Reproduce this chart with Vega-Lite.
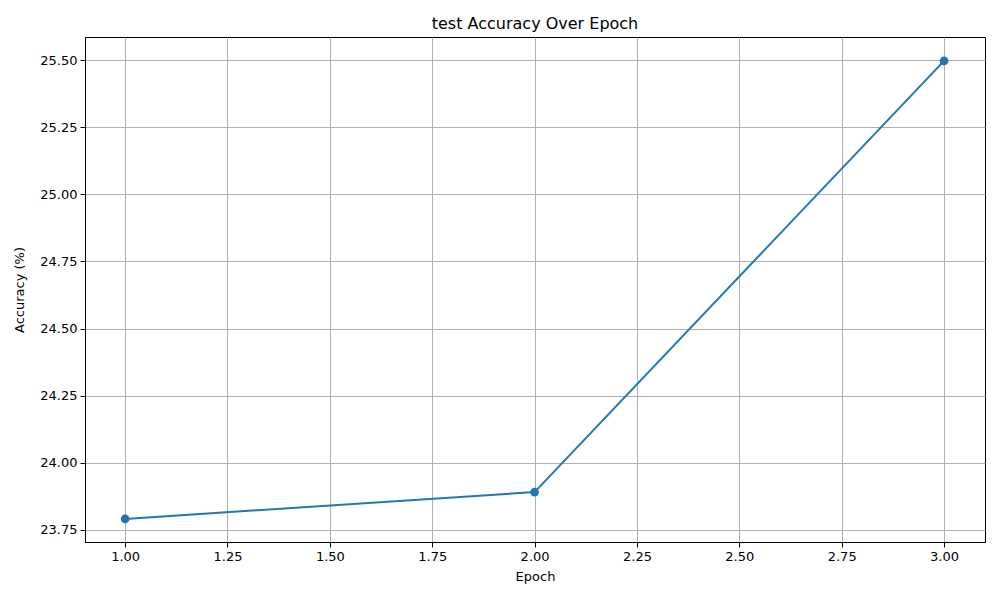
{
  "$schema": "https://vega.github.io/schema/vega-lite/v6.json",
  "width": 900,
  "height": 505,
  "autosize": {"type": "none"},
  "padding": {"left": 85, "top": 37, "right": 15, "bottom": 58},
  "background": "white",
  "config": {
    "font": "DejaVu Sans",
    "view": {"stroke": "black", "strokeWidth": 1},
    "axis": {
      "domainColor": "black",
      "tickColor": "black",
      "tickSize": 5,
      "labelFontSize": 13,
      "labelColor": "black",
      "titleFontSize": 13,
      "titleFontWeight": "normal",
      "titleColor": "black",
      "gridColor": "#b0b0b0",
      "gridWidth": 1,
      "labelPadding": 3
    }
  },
  "title": {
    "text": "test Accuracy Over Epoch",
    "fontSize": 16,
    "fontWeight": "normal",
    "color": "black",
    "offset": 5,
    "anchor": "middle"
  },
  "data": {
    "values": [
      {"Epoch": 1, "Accuracy": 23.791},
      {"Epoch": 2, "Accuracy": 23.891},
      {"Epoch": 3, "Accuracy": 25.497}
    ]
  },
  "encoding": {
    "x": {
      "field": "Epoch",
      "type": "quantitative",
      "scale": {"domain": [0.902, 3.1], "nice": false, "zero": false},
      "axis": {
        "title": "Epoch",
        "values": [1, 1.25, 1.5, 1.75, 2, 2.25, 2.5, 2.75, 3],
        "format": ".2f",
        "titlePadding": 7
      }
    },
    "y": {
      "field": "Accuracy",
      "type": "quantitative",
      "scale": {"domain": [23.705, 25.586], "nice": false, "zero": false},
      "axis": {
        "title": "Accuracy (%)",
        "values": [23.75, 24, 24.25, 24.5, 24.75, 25, 25.25, 25.5],
        "format": ".2f",
        "titlePadding": 13
      }
    }
  },
  "layer": [
    {"mark": {"type": "line", "color": "#1f77b4", "strokeWidth": 2}},
    {"mark": {"type": "point", "filled": true, "color": "#1f77b4", "opacity": 1, "size": 75}}
  ]
}
